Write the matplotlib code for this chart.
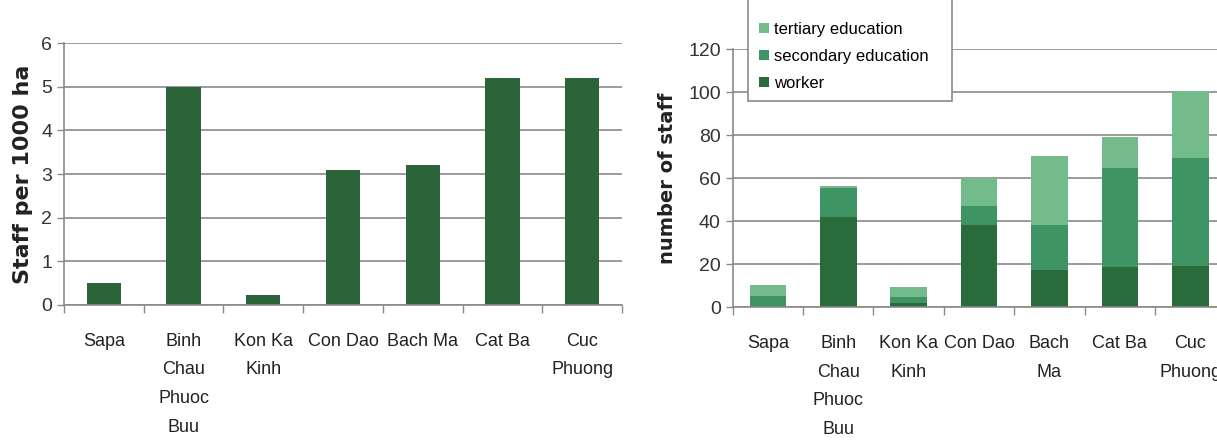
import matplotlib
matplotlib.use("Agg")
import matplotlib.pyplot as plt
from matplotlib.patches import Rectangle
import numpy as np

# data
parks = ["Sapa", "Binh\nChau\nPhuoc\nBuu", "Kon Ka\nKinh", "Con Dao", "Bach Ma", "Cat Ba", "Cuc\nPhuong"]
parks_right = ["Sapa", "Binh\nChau\nPhuoc\nBuu", "Kon Ka\nKinh", "Con Dao", "Bach\nMa", "Cat Ba", "Cuc\nPhuong"]
staff_per_1000ha = [0.5, 5.0, 0.22, 3.1, 3.2, 5.2, 5.2]

worker = [0, 42, 2, 38, 17.5, 18.7, 19]
secondary = [5, 13.5, 2.5, 9, 20.5, 46, 50.5]
tertiary = [5.5, 1, 5, 13, 32.5, 14.5, 31]

C_BAR = "#2b6438"
C_WORK = "#2a6b3c"
C_SEC = "#3f9463"
C_TER = "#74bb8c"
C_GRID = "#8a8a8a"

plt.rcParams["font.family"] = ["Liberation Sans", "DejaVu Sans"]

fig = plt.figure(figsize=(12.17, 4.4), dpi=100)


def style_axes(ax, n):
    ax.set_xlim(-0.5, n - 0.5)
    for s in ["top", "right"]:
        ax.spines[s].set_visible(False)
    for s in ["left", "bottom"]:
        ax.spines[s].set_color(C_GRID)
        ax.spines[s].set_linewidth(1.2)
    ax.yaxis.grid(True, color=C_GRID, linewidth=1.2)
    ax.set_axisbelow(True)
    ax.set_xticks(np.arange(n))
    ax.set_xticks(np.arange(n + 1) - 0.5, minor=True)
    ax.tick_params(axis="x", which="major", length=0, pad=20, labelsize=13, labelcolor="#222222")
    ax.tick_params(axis="x", which="minor", length=6, color=C_GRID, width=1)
    ax.tick_params(axis="y", length=5, color=C_GRID, width=1, labelsize=14, labelcolor="#333333")
    for lbl in ax.get_xticklabels():
        lbl.set_linespacing(1.9)
        lbl.set_verticalalignment("top")


# left chart
ax1 = fig.add_axes([0.0526, 0.307, 0.4585, 0.595])
x = np.arange(len(parks))
ax1.bar(x, staff_per_1000ha, width=0.43, color=C_BAR)
ax1.set_ylim(0, 6)
ax1.set_yticks(range(0, 7))
ax1.set_xticklabels(parks)
style_axes(ax1, len(parks))
ax1.set_ylabel("Staff per 1000 ha", fontsize=16, fontweight="bold", labelpad=6,
               family="DejaVu Sans", color="#222222")

# right chart
ax2 = fig.add_axes([0.602, 0.302, 0.405, 0.586])
x2 = np.arange(len(parks_right))
w = 0.52
b_ter = np.array(worker) + np.array(secondary)
ax2.bar(x2, worker, width=w, color=C_WORK, label="worker")
ax2.bar(x2, secondary, width=w, bottom=worker, color=C_SEC, label="secondary education")
ax2.bar(x2, tertiary, width=w, bottom=b_ter, color=C_TER, label="tertiary education")
ax2.set_ylim(0, 120)
ax2.set_yticks(range(0, 121, 20))
ax2.set_xticklabels(parks_right)
style_axes(ax2, len(parks_right))
ax2.set_ylabel("number of staff", fontsize=14, fontweight="bold", labelpad=8,
               family="DejaVu Sans", color="#222222")

# legend box runs off the top edge in the reference
fig.patches.append(Rectangle((748 / 1217, 1 - 101 / 440), 204 / 1217, 110 / 440,
                             transform=fig.transFigure, facecolor="white",
                             edgecolor=C_GRID, linewidth=1.2, zorder=5))
handles, labels = ax2.get_legend_handles_labels()
leg = fig.legend(handles[::-1], labels[::-1], loc="lower left",
                 bbox_to_anchor=(759 / 1217, 1 - 91 / 440), fontsize=12,
                 frameon=False, handlelength=0.6, handleheight=0.6,
                 handletextpad=0.3, labelspacing=0.72, borderpad=0, borderaxespad=0)
leg.set_zorder(6)

fig.savefig("out.png", dpi=100)
